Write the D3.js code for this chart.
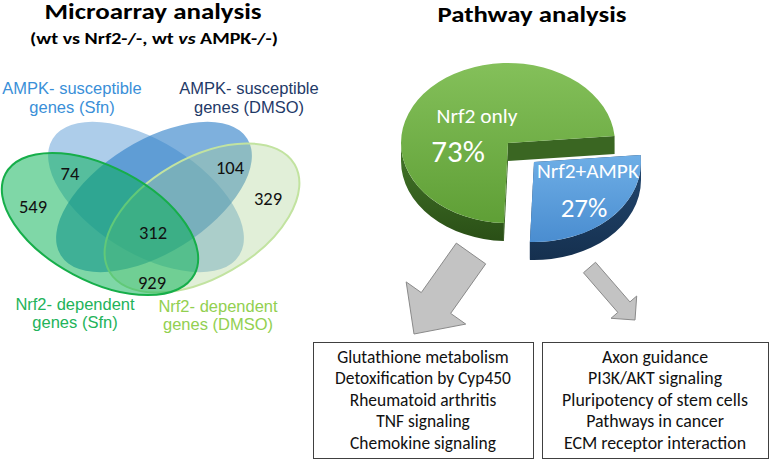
<!DOCTYPE html>
<html><head><meta charset="utf-8">
<script src="https://cdn.jsdelivr.net/npm/d3@7"></script>
<style>body{margin:0;background:#fff} svg{display:block}</style>
</head><body>
<svg id="c" width="770" height="460"></svg>
<script>
// ---------------- DATA ----------------
const vennSetNames = [
  ["Nrf2- dependent", "genes (Sfn)"],
  ["AMPK- susceptible", "genes (Sfn)"],
  ["AMPK- susceptible", "genes (DMSO)"],
  ["Nrf2- dependent", "genes (DMSO)"]
];
const vennRegionNames = ["Nrf2 Sfn only", "Nrf2 Sfn & AMPK Sfn", "AMPK DMSO & Nrf2 DMSO", "Nrf2 DMSO only", "all four sets", "Nrf2 Sfn & Nrf2 DMSO"];
const vennCounts = [549, 74, 104, 329, 312, 929];
const pieLabels = ["Nrf2+AMPK", "Nrf2 only"];
const pieValues = [27, 73];
const nrf2Pathways = ["Glutathione metabolism", "Detoxification by Cyp450", "Rheumatoid arthritis", "TNF signaling", "Chemokine signaling"];
const ampkPathways = ["Axon guidance", "PI3K/AKT signaling", "Pluripotency of stem cells", "Pathways in cancer", "ECM receptor interaction"];

// ---------------- LAYOUT ----------------
const svg = d3.select("#c");
const CAL = "Carlito, Calibri, Lato, sans-serif";
const ARIAL = "'Liberation Sans', Arial, sans-serif";

function stretch(sel, target) {
  sel.attr("textLength", target).attr("lengthAdjust", "spacingAndGlyphs");
  return sel;
}

// Titles
stretch(svg.append("text").attr("x", 153).attr("y", 19).attr("text-anchor", "middle")
  .attr("font-family", CAL).attr("font-weight", "bold").attr("font-size", 21.5)
  .text("Microarray analysis"), 217);
const sub = svg.append("text").attr("x", 154).attr("y", 44).attr("text-anchor", "middle")
  .attr("font-family", CAL).attr("font-weight", "bold").attr("font-size", 15.5);
sub.append("tspan").text("(wt vs Nrf2-/-, wt ");
sub.append("tspan").attr("font-style", "italic").text("vs");
sub.append("tspan").text(" AMPK-/-)");
stretch(sub, 248);
stretch(svg.append("text").attr("x", 532).attr("y", 22).attr("text-anchor", "middle")
  .attr("font-family", CAL).attr("font-weight", "bold").attr("font-size", 21.5)
  .text("Pathway analysis"), 189);

// ---------------- VENN ----------------
const ellipses = [ // drawn in this order: AMPK Sfn, AMPK DMSO, Nrf2 DMSO, Nrf2 Sfn
  {set: 1, cx: 146, cy: 197, rx: 110, ry: 56, rot: 32, fill: "#5b9bd5", op: 0.5, stroke: "none"},
  {set: 2, cx: 154, cy: 197, rx: 110, ry: 56, rot: -32, fill: "#2f80c8", op: 0.62, stroke: "none"},
  {set: 3, cx: 202, cy: 218, rx: 107, ry: 60, rot: -30, fill: "#a9d18e", op: 0.35, stroke: "#c2e3a0"},
  {set: 0, cx: 100, cy: 224, rx: 107, ry: 57, rot: 28, fill: "#00b050", op: 0.5, stroke: "#16ae4a"}
];
const vg = svg.append("g");
vg.selectAll("ellipse").data(ellipses).join("ellipse")
  .attr("cx", d => d.cx).attr("cy", d => d.cy).attr("rx", d => d.rx).attr("ry", d => d.ry)
  .attr("transform", d => `rotate(${d.rot},${d.cx},${d.cy})`)
  .attr("fill", d => d.fill).attr("fill-opacity", d => d.op)
  .attr("stroke", d => d.stroke).attr("stroke-width", 2);

const countPos = [[33, 206], [70, 173], [230, 167], [268, 198], [153, 232], [152, 282]];
vg.selectAll("text.cnt").data(vennCounts).join("text").attr("class", "cnt")
  .attr("x", (d, i) => countPos[i][0]).attr("y", (d, i) => countPos[i][1] + 6.5)
  .attr("text-anchor", "middle").attr("font-family", CAL).attr("font-size", 18.5)
  .attr("fill", "#111").text(d => d);

const setLabelPos = [[75, 310, 328], [72, 94, 113], [249, 94, 113], [218, 312, 330]];
const setColors = ["#22b35a", "#3a8fd8", "#1f3a68", "#92d050"];
vennSetNames.forEach((lines, i) => {
  lines.forEach((t, j) => {
    svg.append("text").attr("x", setLabelPos[i][0]).attr("y", setLabelPos[i][1 + j])
      .attr("text-anchor", "middle").attr("font-family", ARIAL).attr("font-size", 16.5)
      .attr("fill", setColors[i]).text(t);
  });
});

// ---------------- 3D PIE ----------------
const PC = {cx: 508, cy: 143, rx: 107, ry: 80, depth: 18};
const start = 85 * Math.PI / 180;
const arcs = d3.pie().sort(null).value(d => d).startAngle(start).endAngle(start + 2 * Math.PI)(pieValues);
const offsets = [[26, 19], [0, 0]];
const defs = svg.append("defs");
function grad(id, c1, c2) {
  const g = defs.append("linearGradient").attr("id", id).attr("x1", 0).attr("y1", 0).attr("x2", 0).attr("y2", 1);
  g.append("stop").attr("offset", "0%").attr("stop-color", c1);
  g.append("stop").attr("offset", "100%").attr("stop-color", c2);
}
grad("gTop", "#84c05a", "#5f9f36");
grad("gSide", "#44772a", "#2a4f16");
grad("bTop", "#6eaee6", "#4a8dd0");
grad("bSide", "#23476f", "#15304f");
const styles = [
  {top: "url(#bTop)", side: "url(#bSide)", face: "#1b3a5e"},
  {top: "url(#gTop)", side: "url(#gSide)", face: "#3a6622"}
];
function P(a, o, dz) {
  return [PC.cx + o[0] + PC.rx * Math.sin(a), PC.cy + o[1] - PC.ry * Math.cos(a) + (dz || 0)];
}
const pg = svg.append("g");
const order = [1, 0]; // green behind, exploded blue in front
order.forEach(i => {
  const d = arcs[i], o = offsets[i], st = styles[i], D = PC.depth;
  const apex = [PC.cx + o[0], PC.cy + o[1]];
  [d.endAngle, d.startAngle].forEach(a => {
    const p = P(a, o);
    pg.append("path").attr("fill", st.face)
      .attr("d", `M${apex}L${p}L${[p[0], p[1] + D]}L${[apex[0], apex[1] + D]}Z`);
  });
  [[Math.PI / 2, 1.5 * Math.PI], [2.5 * Math.PI, 3.5 * Math.PI]].forEach(([lo, hi]) => {
    const s = Math.max(lo, d.startAngle), e = Math.min(hi, d.endAngle);
    if (e <= s) return;
    const p0 = P(s, o), p1 = P(e, o), q0 = P(s, o, D), q1 = P(e, o, D);
    pg.append("path").attr("fill", st.side)
      .attr("d", `M${p0}A${PC.rx},${PC.ry} 0 0 1 ${p1}L${q1}A${PC.rx},${PC.ry} 0 0 0 ${q0}Z`);
  });
  const p0 = P(d.startAngle, o), p1 = P(d.endAngle, o);
  const large = d.endAngle - d.startAngle > Math.PI ? 1 : 0;
  pg.append("path").attr("fill", st.top)
    .attr("d", `M${apex}L${p0}A${PC.rx},${PC.ry} 0 ${large} 1 ${p1}Z`);
});
const pieLab = [
  {name: [588, 178, 20, 102], pct: [584, 217, 27]},
  {name: [477, 123, 20, 81], pct: [458, 162, 31]}
];
pieLabels.forEach((t, i) => {
  const L = pieLab[i];
  stretch(svg.append("text").attr("x", L.name[0]).attr("y", L.name[1]).attr("text-anchor", "middle")
    .attr("font-family", CAL).attr("font-size", L.name[2]).attr("fill", "#fff").text(t), L.name[3]);
  svg.append("text").attr("x", L.pct[0]).attr("y", L.pct[1]).attr("text-anchor", "middle")
    .attr("font-family", CAL).attr("font-size", L.pct[2]).attr("fill", "#fff").text(pieValues[i] + "%");
});

// ---------------- ARROWS ----------------
function arrowPath(tail, tip, sw, hw, hl) {
  const dx = tip[0] - tail[0], dy = tip[1] - tail[1], len = Math.hypot(dx, dy);
  const ux = dx / len, uy = dy / len, nx = -uy, ny = ux;
  const b = [tip[0] - ux * hl, tip[1] - uy * hl];
  const pts = [
    [tail[0] + nx * sw / 2, tail[1] + ny * sw / 2],
    [b[0] + nx * sw / 2, b[1] + ny * sw / 2],
    [b[0] + nx * hw / 2, b[1] + ny * hw / 2],
    tip,
    [b[0] - nx * hw / 2, b[1] - ny * hw / 2],
    [b[0] - nx * sw / 2, b[1] - ny * sw / 2],
    [tail[0] - nx * sw / 2, tail[1] - ny * sw / 2]
  ];
  return "M" + pts.map(p => p.join(",")).join("L") + "Z";
}
const arrows = [
  {tail: [471, 253.5], tip: [414, 334], sw: 36, hw: 73, hl: 38},
  {tail: [589.5, 267.5], tip: [635, 320], sw: 16, hw: 34, hl: 17}
];
svg.selectAll("path.arr").data(arrows).join("path").attr("class", "arr")
  .attr("d", d => arrowPath(d.tail, d.tip, d.sw, d.hw, d.hl))
  .attr("fill", "#c3c3c3").attr("stroke", "#8a8a8a").attr("stroke-width", 1);

// ---------------- PATHWAY BOXES ----------------
const boxes = [
  {x: 313, y: 342, w: 220, h: 116, items: nrf2Pathways, widest: 176},
  {x: 542, y: 342, w: 226, h: 116, items: ampkPathways, widest: 186}
];
boxes.forEach(b => {
  svg.append("rect").attr("x", b.x + 0.5).attr("y", b.y + 0.5).attr("width", b.w).attr("height", b.h)
    .attr("fill", "#fff").attr("stroke", "#404040").attr("stroke-width", 1);
  const ts = b.items.map((t, i) => svg.append("text").attr("x", b.x + b.w / 2).attr("y", b.y + 20.5 + i * 21.6)
    .attr("text-anchor", "middle").attr("font-family", CAL).attr("font-size", 16).attr("fill", "#111").text(t));
  let maxw = 0;
  ts.forEach(t => { maxw = Math.max(maxw, t.node().getComputedTextLength()); });
  const fs = 16 * b.widest / maxw;
  ts.forEach(t => t.attr("font-size", fs.toFixed(2)));
});
</script>
</body></html>
